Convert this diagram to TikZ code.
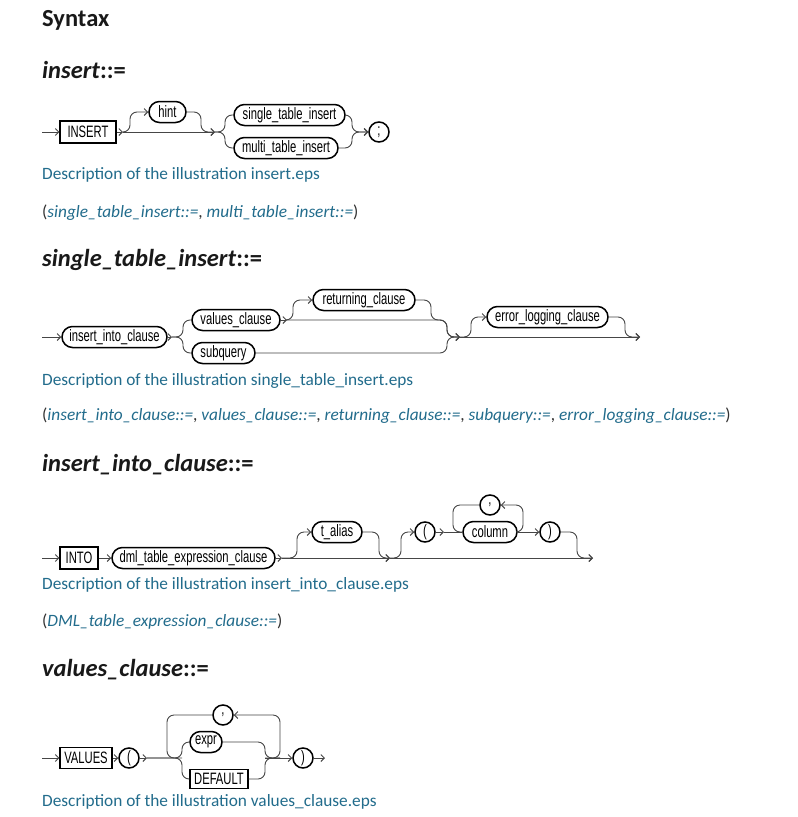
\documentclass[tikz,border=0pt]{standalone}
\usepackage{fontspec}
\usetikzlibrary{arrows.meta}
\setmainfont{Carlito}
\newfontfamily\railfamily[FakeStretch=0.68]{Liberation Sans}
\newcommand\hdfont{\fontsize{24.5}{29}\selectfont\bfseries}
\newcommand\dscfont{\fontsize{17.3}{21}\selectfont}
\newcommand\railfnt{\railfamily\fontsize{16.5}{18}\selectfont}
\definecolor{railc}{RGB}{70,70,70}
\definecolor{linkc}{RGB}{34,108,140}
\definecolor{headc}{RGB}{25,25,25}
\definecolor{parc}{RGB}{50,50,50}
\tikzset{
  rail/.style={draw=railc, line width=0.9pt, rounded corners=7pt},
  tip/.style={-{Straight Barb[length=3.5pt,width=7pt,line width=0.9pt]}},
  oval/.style={rectangle, rounded corners=10.5pt, draw=black, line width=1.5pt,
    minimum height=21pt, inner xsep=2pt, inner ysep=0pt, font=\railfnt},
  kbox/.style={rectangle, draw=black, line width=1.2pt, minimum height=22pt,
    inner xsep=2pt, inner ysep=0pt, font=\railfnt},
  cbox/.style={circle, draw=black, line width=1.5pt, minimum size=20pt,
    inner sep=0pt, font=\railfnt},
  head/.style={anchor=base west, inner sep=0pt, text=headc, font=\hdfont},
  desc/.style={anchor=base west, inner sep=0pt, text=linkc, font=\dscfont},
  refs/.style={anchor=base west, inner sep=0pt, text=parc, font=\dscfont},
}
\newcommand\lnk[1]{\textcolor{linkc}{\textit{#1}}}
\begin{document}
\begin{tikzpicture}[x=1pt, y=-1pt]
\useasboundingbox[fill=white] (0,0) rectangle (798,817);

% ---------- page text ----------
\node[head] (h0) at (42,26) {Syntax};
\node[head] (h1) at (42,78) {\textit{insert}::=};
\node[desc] (ds1) at (42,179) {Description of the illustration insert.eps};
\node[refs] (rf1) at (42,217) {(\lnk{single\_table\_insert::=}, \lnk{multi\_table\_insert::=})};
\node[head] (h2) at (42,266) {\textit{single\_table\_insert}::=};
\node[desc] (ds2) at (42,385) {Description of the illustration single\_table\_insert.eps};
\node[refs] (rf2) at (42,420) {(\lnk{insert\_into\_clause::=}, \lnk{values\_clause::=}, \lnk{returning\_clause::=}, \lnk{subquery::=}, \lnk{error\_logging\_clause::=})};
\node[head] (h3) at (42,471) {\textit{insert\_into\_clause}::=};
\node[desc] (ds3) at (42,589) {Description of the illustration insert\_into\_clause.eps};
\node[refs] (rf3) at (42,626) {(\lnk{DML\_table\_expression\_clause::=})};
\node[head] (h4) at (42,676) {\textit{values\_clause}::=};
\node[desc] (ds4) at (42,806) {Description of the illustration values\_clause.eps};

% ---------- insert ----------
\coordinate (d1s) at (42,132);
\node[kbox, minimum width=56pt] (ins) at (88,132) {INSERT};
\coordinate (d1a) at (123,132);
\node[oval, minimum width=37pt] (hint) at (167.5,112) {hint};
\coordinate (d1hv) at (201,132);
\coordinate (d1b) at (215,132);
\coordinate (d1c) at (225,132);
\node[oval, minimum width=111pt] (sti) at (289.5,115) {single\_table\_insert};
\node[oval, minimum width=104pt] (mti) at (286,148) {multi\_table\_insert};
\coordinate (d1d) at (352,132);
\node[cbox] (semi) at (379,132) {;};

\draw[rail,tip] (d1s) -- (ins.west);
\draw[rail,tip] (ins.east) -- (d1a);
\draw[rail,tip] (d1a) -- ++(7,0) |- (hint.west);
\draw[rail,tip] (hint.east) -| (d1hv) -- (d1b);
\draw[rail,tip] (d1a) -- (d1b);
\draw[rail] (d1b) -- (d1c) |- (sti.west);
\draw[rail] (d1b) -- (d1c) |- (mti.west);
\draw[rail,tip] (sti.east) -| (d1d) -- (semi.west);
\draw[rail,tip] (mti.east) -| (d1d) -- (semi.west);

% ---------- single_table_insert ----------
\coordinate (d2s) at (42,337);
\node[oval, minimum width=105pt] (iic) at (114.5,337) {insert\_into\_clause};
\coordinate (d2a) at (172,337);
\coordinate (d2b) at (183,337);
\node[oval, minimum width=88pt] (vc) at (236,320) {values\_clause};
\node[oval, minimum width=63pt] (sq) at (223.5,353) {subquery};
\coordinate (d2c) at (287,320);
\node[oval, minimum width=102pt] (rc) at (364,300) {returning\_clause};
\coordinate (d2d) at (431,320);
\coordinate (d2e) at (447,337);
\coordinate (d2f) at (460,337);
\node[oval, minimum width=121pt] (elc) at (547.5,317) {error\_logging\_clause};
\coordinate (d2g) at (625,337);
\coordinate (d2t) at (640,337);

\draw[rail,tip] (d2s) -- (iic.west);
\draw[rail,tip] (iic.east) -- (d2a);
\draw[rail] (d2a) -- (d2b) |- (vc.west);
\draw[rail] (d2a) -- (d2b) |- (sq.west);
\draw[rail,tip] (vc.east) -- (d2c);
\draw[rail,tip] (d2c) -- ++(6,0) |- (rc.west);
\draw[rail,tip] (rc.east) -| (d2d) -| (d2e) -- (d2f);
\draw[rail,tip] (d2c) -| (d2e) -- (d2f);
\draw[rail,tip] (sq.east) -| (d2e) -- (d2f);
\draw[rail,tip] (d2f) -- ++(11,0) |- (elc.west);
\draw[rail,tip] (elc.east) -| (d2g) -- (d2t);
\draw[rail,tip] (d2f) -- (d2t);

% ---------- insert_into_clause ----------
\coordinate (d3s) at (42,558);
\node[kbox, minimum width=38pt] (into) at (79,558) {INTO};
\node[oval, minimum width=163pt] (dml) at (193.5,558) {dml\_table\_expression\_clause};
\coordinate (d3a) at (282,558);
\node[oval, minimum width=50pt] (ta) at (337,532) {t\_alias};
\coordinate (d3b) at (379,558);
\coordinate (d3c) at (390,558);
\node[cbox] (lp) at (425,532) {(};
\coordinate (d3d) at (444,532);
\coordinate (d3e) at (453,532);
\node[oval, minimum width=54pt] (col) at (490,532) {column};
\node[cbox] (cm) at (490,505) {,};
\coordinate (d3f) at (523,532);
\node[cbox] (rp) at (550,532) {)};
\coordinate (d3g) at (577,558);
\coordinate (d3t) at (593,558);

\draw[rail,tip] (d3s) -- (into.west);
\draw[rail,tip] (into.east) -- (dml.west);
\draw[rail,tip] (dml.east) -- (d3a);
\draw[rail,tip] (d3a) -- ++(15,0) |- (ta.west);
\draw[rail,tip] (ta.east) -| (d3b) -- (d3c);
\draw[rail,tip] (d3a) -- (d3c);
\draw[rail,tip] (d3c) -- ++(11,0) |- (lp.west);
\draw[rail,tip] (lp.east) -- (d3d);
\draw[rail] (d3d) -- (col.west);
\draw[rail,tip] (col.east) -- (d3f) |- (cm.east);
\draw[rail] (cm.west) -| (d3e) -- (col.west);
\draw[rail,tip] (col.east) -- (rp.west);
\draw[rail,tip] (rp.east) -| (d3g) -- (d3t);
\draw[rail,tip] (d3c) -- (d3t);

% ---------- values_clause ----------
\coordinate (d4s) at (42,758);
\node[kbox, minimum width=52pt, minimum height=21pt] (vals) at (86,758) {VALUES};
\node[cbox] (lp4) at (129,758) {(};
\coordinate (d4a) at (147,758);
\coordinate (d4b) at (167,758);
\coordinate (d4c) at (182,758);
\node[oval, minimum width=32pt] (ex) at (206,742) {expr};
\node[kbox, minimum width=58pt, minimum height=19pt] (df) at (219,779) {DEFAULT};
\coordinate (d4d) at (265,758);
\coordinate (d4e) at (280,758);
\node[cbox] (cm4) at (223,715) {,};
\node[cbox] (rp4) at (303,758) {)};
\coordinate (d4t) at (325,758);

\draw[rail,tip] (d4s) -- (vals.west);
\draw[rail,tip] (vals.east) -- (lp4.west);
\draw[rail,tip] (lp4.east) -- (d4a);
\draw[rail] (d4a) -- (d4c) |- (ex.west);
\draw[rail] (d4a) -- (d4c) |- (df.west);
\draw[rail] (ex.east) -| (d4d) -- (d4e);
\draw[rail] (df.east) -| (d4d) -- (d4e);
\draw[rail,tip] (d4d) -- (d4e) |- (cm4.east);
\draw[rail] (cm4.west) -| (d4b) -- (d4c);
\draw[rail,tip] (d4d) -- (rp4.west);
\draw[rail,tip] (rp4.east) -- (d4t);
\end{tikzpicture}
\end{document}
